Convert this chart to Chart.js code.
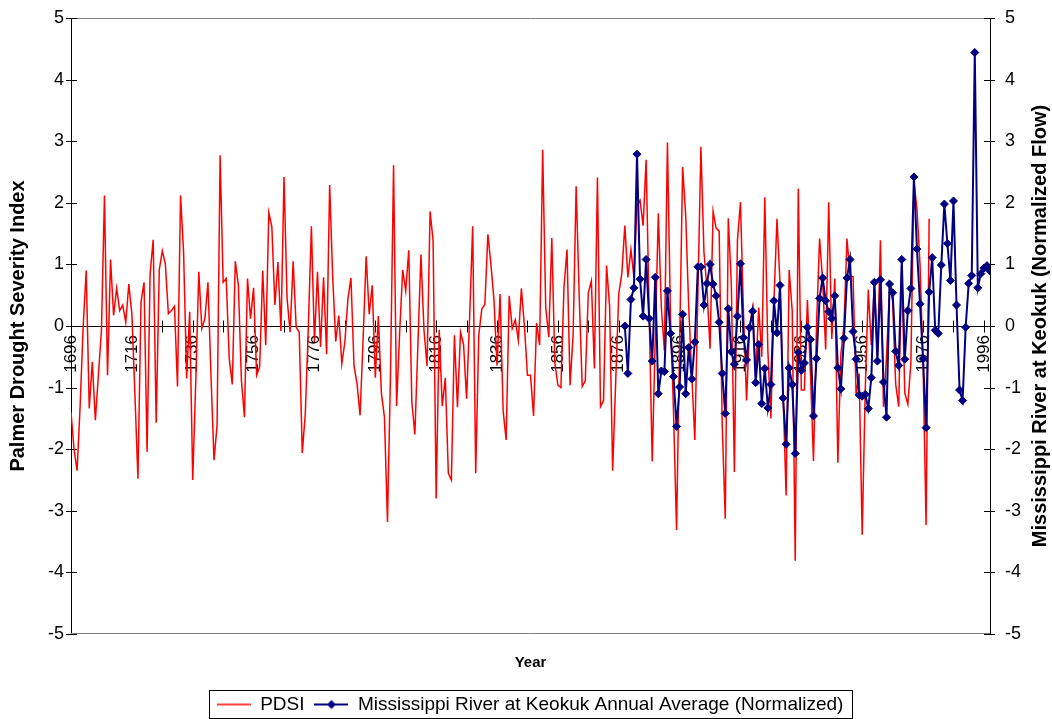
<!DOCTYPE html>
<html>
<head>
<meta charset="utf-8">
<title>PDSI and Mississippi River at Keokuk</title>
<script src="https://cdn.jsdelivr.net/npm/chart.js@4.4.1/dist/chart.umd.min.js"></script>
<style>
  html, body { margin: 0; padding: 0; background: #fff; }
  #wrap { width: 1052px; height: 719px; }
</style>
</head>
<body>
<div id="wrap"><canvas id="droughtChart" width="1052" height="719"></canvas></div>
<script>
// Palmer Drought Severity Index, one value per year from 1696
const pdsiStart = 1696;
const pdsi = [
  -1.4, -2.0, -2.35, -1.3, 0.0, 0.9, -1.34, -0.58, -1.53, -0.8,
  -0.07, 2.12, -0.8, 1.08, 0.17, 0.61, 0.25, 0.34, 0.06, 0.68,
  0.2, -1.1, -2.48, 0.39, 0.71, -2.04, 0.85, 1.4, -1.57, 0.91,
  1.22, 1.01, 0.2, 0.25, 0.32, -0.98, 2.12, 1.2, -0.85, 0.23,
  -2.5, -0.9, 0.88, -0.04, 0.12, 0.71, -0.8, -2.18, -1.61, 2.77,
  0.71, 0.77, -0.53, -0.95, 1.05, 0.66, -0.88, -1.48, 0.77, 0.12,
  0.62, -0.8, -0.66, 0.9, -0.31, 1.84, 1.61, 0.34, 1.04, -0.08,
  2.42, 0.45, -0.1, 1.05, -0.02, -0.1, -2.06, -1.42, 0.0, 1.62,
  -0.26, 0.88, -0.34, 0.79, -0.46, 2.29, 0.79, -0.25, 0.17, -0.61,
  -0.26, 0.44, 0.78, -0.64, -0.94, -1.45, -0.2, 1.13, 0.19, 0.66,
  -0.84, 0.16, -1.09, -1.48, -3.18, -0.75, 2.61, -1.3, -0.1, 0.91,
  0.57, 1.23, -1.23, -1.76, -0.3, 1.16, -0.07, -0.65, 1.86, 1.38,
  -2.8, -0.06, -1.3, -0.84, -2.39, -2.5, -0.15, -1.32, -0.1, -0.3,
  -1.18, 0.15, 1.62, -2.39, -0.15, 0.28, 0.35, 1.49, 1.0, 0.42,
  -0.64, 0.52, -1.37, -1.85, 0.49, -0.04, 0.1, -0.23, 0.61, 0.0,
  -0.8, -0.8, -1.46, 0.05, -0.31, 2.86, 0.31, -0.18, 1.43, -0.6,
  -0.96, -1.0, 0.63, 1.24, -0.96, -0.15, 2.27, 0.5, -0.98, -0.89,
  0.54, 0.73, -0.69, 2.41, -1.31, -1.21, 0.98, 0.31, -2.35, -0.9,
  0.52, 0.85, 1.63, 0.79, 1.24, 0.79, 1.96, 2.04, 1.63, 2.7,
  0.2, -2.2, -0.2, 1.83, 0.3, -0.4, 2.98, 0.15, -1.4, -3.31,
  -0.3, 2.58, 1.8, 0.3, -0.8, -1.85, 0.5, 2.91, 1.2, 0.6,
  -0.37, 1.86, 1.59, 1.54, -1.6, -3.13, 1.75, 0.68, -2.37, 1.39,
  2.01, 0.2, -1.21, 0.0, 0.3, -0.8, 0.3, -0.5, 2.09, -0.4,
  -1.5, 0.4, 1.74, 0.69, -1.1, -2.75, 0.91, 0.25, -3.81, 2.23,
  -1.04, -1.04, 0.42, -0.77, -2.19, 0.04, 1.42, 0.74, -0.38, 2.01,
  -0.21, 0.77, -2.22, -0.45, 0.0, 1.42, 0.82, 0.8, -1.12, -0.77,
  -3.39, -1.04, 0.59, -0.31, 0.68, -0.5, 1.39, -1.31, -0.5, 0.63,
  0.41, -0.94, -1.31, 0.98, -1.09, -1.27, -0.6, 2.35, 1.9, 1.0,
  -0.6, -3.23, 1.74
];

// Mississippi River at Keokuk, normalized annual average flow from 1878
const flowStart = 1878;
const flow = [
  0.0, -0.77, 0.43, 0.62, 2.79, 0.76, 0.16, 1.08, 0.12, -0.57,
  0.79, -1.1, -0.73, -0.74, 0.57, -0.12, -0.82, -1.63, -0.99, 0.19,
  -1.1, -0.35, -0.86, -0.26, 0.96, 0.96, 0.34, 0.69, 1.0, 0.68,
  0.49, 0.06, -0.77, -1.42, 0.28, -0.42, -0.62, 0.16, 1.01, -0.19,
  -0.55, -0.03, 0.24, -0.92, -0.3, -1.26, -0.69, -1.33, -0.95, 0.41,
  -0.11, 0.66, -1.17, -1.92, -0.68, -0.95, -2.07, -0.43, -0.72, -0.6,
  -0.02, -0.22, -1.46, -0.53, 0.45, 0.78, 0.41, 0.23, 0.12, 0.49,
  -0.68, -1.02, -0.2, 0.78, 1.08, -0.09, -0.54, -1.12, -1.14, -1.11,
  -1.34, -0.84, 0.71, -0.57, 0.75, -0.91, -1.48, 0.68, 0.54, -0.41,
  -0.64, 1.08, -0.54, 0.25, 0.61, 2.42, 1.25, 0.36, -0.53, -1.65,
  0.55, 1.11, -0.07, -0.12, 0.99, 1.98, 1.34, 0.74, 2.03, 0.34,
  -1.04, -1.21, -0.02, 0.69, 0.82, 4.44, 0.62, 0.85, 0.94, 0.98,
  0.89
];

const labelYears = [1696, 1716, 1736, 1756, 1776, 1796, 1816, 1836,
  1856, 1876, 1896, 1916, 1936, 1956, 1976, 1996];
const tickYears = [1696, 1706, 1716, 1726, 1736, 1746, 1756, 1766, 1776,
  1786, 1796, 1806, 1816, 1826, 1836, 1846, 1856, 1866, 1876, 1886, 1896,
  1906, 1916, 1926, 1936, 1946, 1956, 1966, 1976, 1986, 1996];
const firstYear = 1696;
const lastYear = 1998;

const pdsiPoints = pdsi.map((v, i) => ({ x: pdsiStart + i, y: v }));
const flowPoints = flow.map((v, i) => ({ x: flowStart + i, y: v }));

Chart.defaults.font.family = "'Liberation Sans', Arial, sans-serif";
Chart.defaults.color = "#000";

// little legend icons: plain red line, blue line with a diamond
function legendIcon(color, width, diamond) {
  const c = document.createElement("canvas");
  c.width = 34;
  c.height = 12;
  const g = c.getContext("2d");
  g.strokeStyle = color;
  g.lineWidth = width;
  g.beginPath();
  g.moveTo(0, 6);
  g.lineTo(34, 6);
  g.stroke();
  if (diamond) {
    g.fillStyle = color;
    g.beginPath();
    g.moveTo(17, 1.5);
    g.lineTo(21.5, 6);
    g.lineTo(17, 10.5);
    g.lineTo(12.5, 6);
    g.closePath();
    g.fill();
  }
  return c;
}
const icons = [legendIcon("#ff0000", 1.5, false), legendIcon("#000080", 2, true)];
const legendShift = { x: 4, y: 5 };

// keep the plot box where the original has it, no extra room for edge labels
function noEdgePadding(scale) {
  scale.paddingTop = 0;
  scale.paddingBottom = 0;
}

const frame = {
  id: "frame",
  afterLayout(chart) {
    // nudge the legend row down/right to where the original sits
    const lg = chart.legend;
    lg.top += legendShift.y;
    lg.bottom += legendShift.y;
    lg.left += legendShift.x;
    lg.right += legendShift.x;
  },
  beforeDatasetsDraw(chart) {
    const { ctx, chartArea: a, scales } = chart;
    ctx.save();
    ctx.lineWidth = 1;
    ctx.strokeStyle = "#808080";
    ctx.beginPath();
    ctx.moveTo(a.left, Math.round(a.top) + 0.5);
    ctx.lineTo(a.right, Math.round(a.top) + 0.5);
    ctx.moveTo(a.left, Math.round(a.bottom) - 0.5);
    ctx.lineTo(a.right, Math.round(a.bottom) - 0.5);
    ctx.stroke();

    // tick marks crossing the axis lines
    ctx.strokeStyle = "#000";
    ctx.beginPath();
    const y0 = Math.round(scales.y.getPixelForValue(0)) + 0.5;
    tickYears.forEach((v) => {
      const x = Math.round(scales.x.getPixelForValue(v)) + 0.5;
      ctx.moveTo(x, y0 - 6);
      ctx.lineTo(x, y0 + 6);
    });
    scales.y.ticks.forEach((t) => {
      const y = Math.round(scales.y.getPixelForValue(t.value)) + 0.5;
      ctx.moveTo(a.left - 5, y);
      ctx.lineTo(a.left + 6, y);
      ctx.moveTo(a.right - 6, y);
      ctx.lineTo(a.right + 5, y);
    });
    ctx.stroke();
    ctx.restore();
  },
  afterDraw(chart) {
    const { ctx, chartArea: a } = chart;
    ctx.save();
    // right axis title reads bottom to top like the left one
    ctx.translate(1040, (a.top + a.bottom) / 2);
    ctx.rotate(-Math.PI / 2);
    ctx.font = "bold 20px 'Liberation Sans', Arial, sans-serif";
    ctx.fillStyle = "#000";
    ctx.textAlign = "center";
    ctx.textBaseline = "middle";
    ctx.fillText("Mississippi River at Keokuk (Normalized Flow)", 0, 0);
    ctx.restore();

    // frame round the legend row
    const lg = chart.legend;
    const pad = lg.options.labels.padding;
    const size = lg.options.labels.font.size;
    const rowWidth = lg.lineWidths[0];
    const x0 = (lg.left + pad + lg.right - rowWidth) / 2;
    const x1 = x0 + rowWidth - pad;
    const yc = lg.top + pad + size / 2;
    ctx.save();
    ctx.strokeStyle = "#000";
    ctx.lineWidth = 1;
    ctx.strokeRect(Math.round(x0 - 8) + 0.5, Math.round(yc - 15) + 0.5,
      Math.round(x1 - x0 + 16), Math.min(29, Math.round(717 - (yc - 15))));
    ctx.restore();
  }
};

const droughtChart = new Chart(document.getElementById("droughtChart"), {
  type: "line",
  data: {
    datasets: [
      {
        label: "PDSI",
        data: pdsiPoints,
        borderColor: "#ff0000",
        backgroundColor: "#ff0000",
        borderWidth: 1.5,
        pointRadius: 0,
        tension: 0,
        yAxisID: "y",
        order: 2,
      },
      {
        label: "Mississippi River at Keokuk Annual Average (Normalized)",
        data: flowPoints,
        borderColor: "#000080",
        backgroundColor: "#000080",
        borderWidth: 2,
        pointStyle: "rectRot",
        pointRadius: 4,
        pointBackgroundColor: "#000080",
        pointBorderColor: "#000080",
        pointBorderWidth: 1,
        tension: 0,
        yAxisID: "y2",
        order: 1,
      },
    ],
  },
  options: {
    responsive: false,
    animation: false,
    devicePixelRatio: 1,
    layout: { padding: { top: 18, left: 0, right: 0, bottom: 0 } },
    plugins: {
      tooltip: { enabled: false },
      legend: {
        position: "bottom",
        labels: {
          usePointStyle: true,
          pointStyleWidth: 34,
          padding: 10,
          font: { size: 19 },
          color: "#000",
          sort: (a, b) => a.datasetIndex - b.datasetIndex,
          generateLabels(chart) {
            const items = Chart.defaults.plugins.legend.labels.generateLabels(chart);
            items.forEach((it) => { it.pointStyle = icons[it.datasetIndex]; });
            return items;
          },
        },
      },
    },
    scales: {
      x: {
        type: "linear",
        min: firstYear,
        max: lastYear,
        position: { y: 0 },
        afterBuildTicks: (scale) => {
          scale.ticks = tickYears.map((v) => ({ value: v }));
        },
        afterFit: noEdgePadding,
        grid: { display: false, drawTicks: false },
        border: { display: true, color: "#000", width: 1 },
        ticks: {
          autoSkip: false,
          minRotation: 90,
          maxRotation: 90,
          padding: 9,
          font: { size: 17 },
          color: "#000",
          callback: (v) => (labelYears.includes(v) ? String(v) : ""),
        },
      },
      xb: {
        type: "linear",
        min: firstYear,
        max: lastYear,
        position: "bottom",
        grid: { display: false, drawTicks: false },
        border: { display: false },
        ticks: { display: false },
        title: {
          display: true,
          text: "Year",
          font: { size: 15, weight: "bold" },
          color: "#000",
          padding: { top: 0, bottom: 8 },
        },
        afterFit: (scale) => {
          scale.height = 85 - scale.chart.legend.height;
        },
      },
      y: {
        position: "left",
        min: -5,
        max: 5,
        grid: { display: false, drawTicks: false },
        border: { display: true, color: "#000", width: 1 },
        ticks: { stepSize: 1, padding: 7, font: { size: 18 }, color: "#000" },
        title: {
          display: true,
          text: "Palmer Drought Severity Index",
          font: { size: 20, weight: "bold" },
          color: "#000",
          padding: { top: 6, bottom: 0 },
        },
        afterFit: (scale) => {
          scale.width = 71;
          noEdgePadding(scale);
        },
      },
      y2: {
        position: "right",
        min: -5,
        max: 5,
        grid: { display: false, drawTicks: false },
        border: { display: true, color: "#000", width: 1 },
        ticks: { stepSize: 1, padding: 15, font: { size: 18 }, color: "#000" },
        afterFit: (scale) => {
          scale.width = 62;
          noEdgePadding(scale);
        },
      },
    },
  },
  plugins: [frame],
});
</script>
</body>
</html>
